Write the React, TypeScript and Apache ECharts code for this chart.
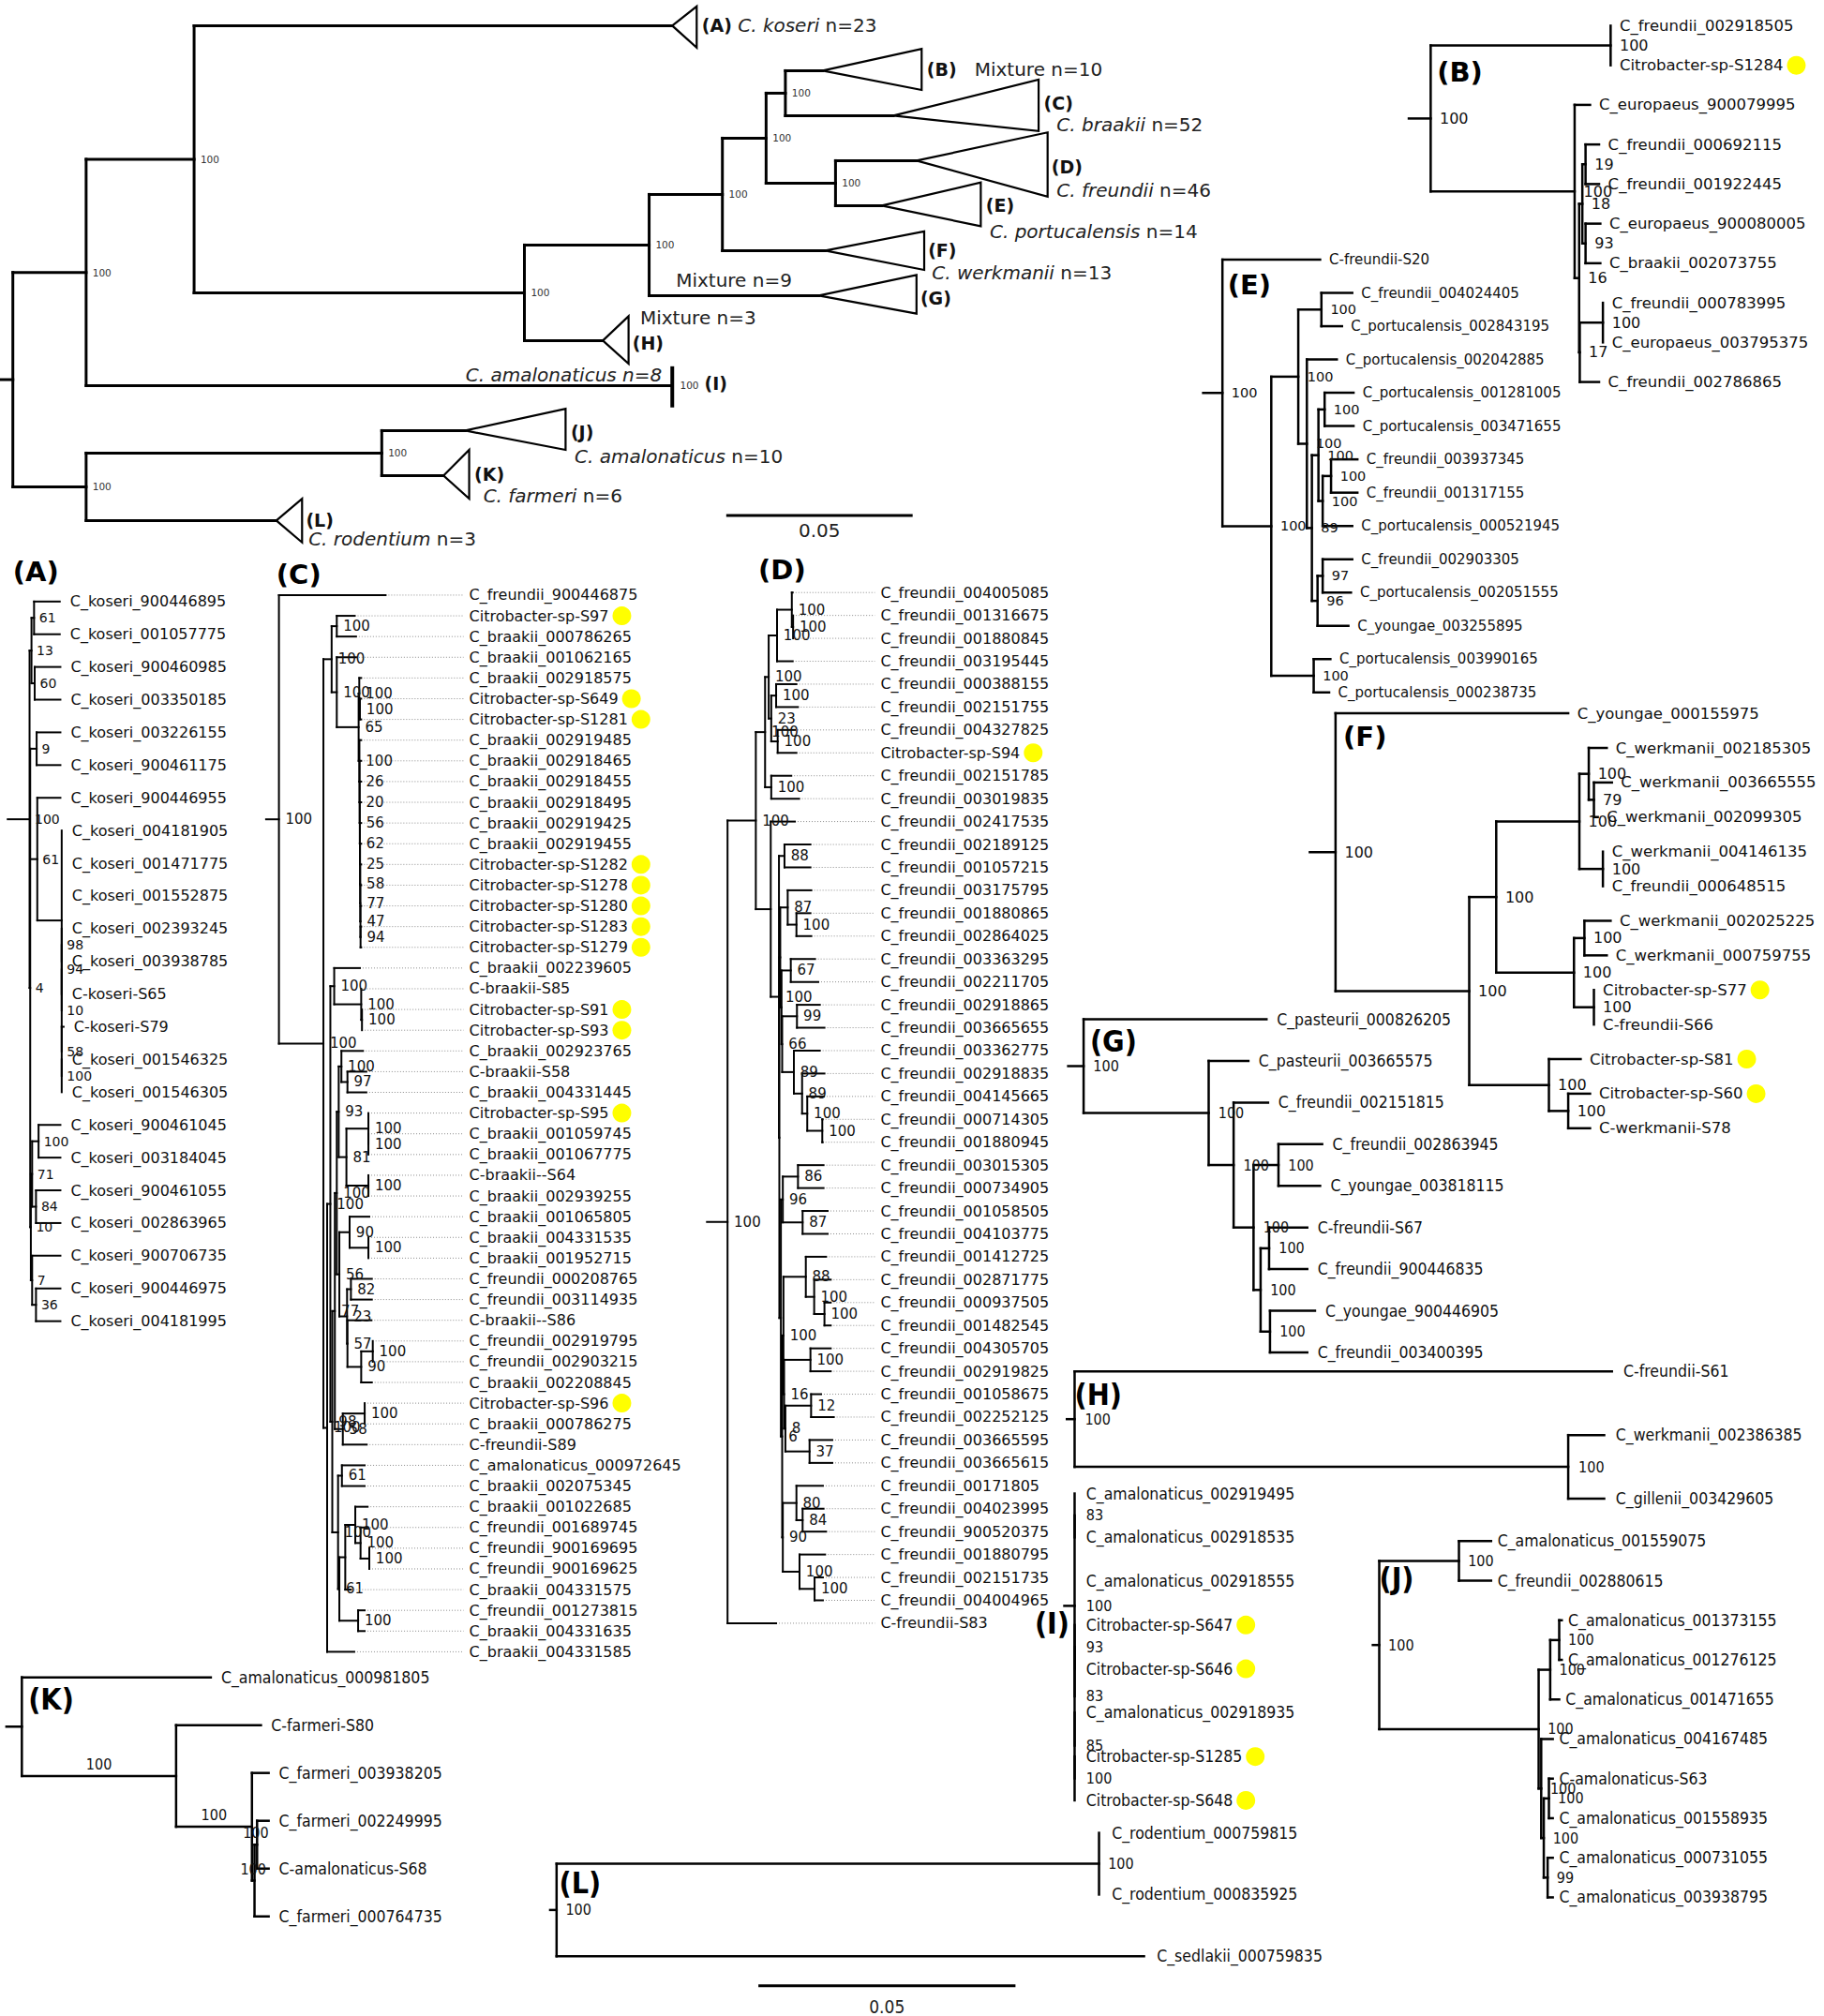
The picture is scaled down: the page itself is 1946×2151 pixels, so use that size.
import React, { useEffect, useRef } from "react";
import * as echarts from "echarts";

const PAGE_W = 1946;
const PAGE_H = 2151;
const S = PAGE_W / 1419; // depths / positions below were read on a 1419-px-wide copy
const SANS = "'DejaVu Sans', 'Noto Sans', sans-serif";
const COND = "'DejaVu Sans Condensed', 'Liberation Sans Narrow', 'DejaVu Sans', sans-serif";

/* ======================= DATA ======================= */
// Newick trees: ":value" = node depth along the tree axis, internal label = bootstrap support, "*" = highlighted isolate.

// Overview (collapsed clades A..L)
const OV_TREE =
  "(((A:523,(((((B:640,C:695)100:611,(D:713,E:686)100:650)100:596,F:642)100:562,G:637)100:505,H:469)100:408)100:151,I:523)100:67,((J:362,K:345)100:297,L:215)100:67):10;";
const OV_CLADE_DEPTH = [19, 77, 113, 102, 77, 77, 76, 20, 0, 78, 20, 20];
const OV_CLADE_UP = [15, 17, 28, 22, 18, 15, 16, 19, 15, 17, 20, 17];
const OV_CLADE_DOWN = [17, 15, 12, 28, 16, 15, 14, 18, 17, 15, 18, 17];
const OV_CLADE_TAXON = [
  "C. koseri", "Mixture", "C. braakii", "C. freundii", "C. portucalensis", "C. werkmanii",
  "Mixture", "Mixture", "C. amalonaticus", "C. amalonaticus", "C. farmeri", "C. rodentium",
];
const OV_CLADE_N = [23, 10, 52, 46, 14, 13, 9, 3, 8, 10, 6, 3];
const OV_I_SUPPORT = "100";
const SCALE_LABEL = "0.05";
const SCALE_TOP_LEN = 145;
const SCALE_BOTTOM_LEN = 200;

// (A) C. koseri
const TREE_A =
  "(((C_koseri_900446895:46.5,C_koseri_001057775:46.5)61:26.5,(C_koseri_900460985:47,C_koseri_003350185:47)60:27)13:24.5," +
  "((C_koseri_003226155:47,C_koseri_900461175:47)9:28.5," +
  "(C_koseri_900446955:47,(C_koseri_004181905:48,C_koseri_001471775:48,C_koseri_001552875:48,(((C_koseri_002393245:48,C_koseri_003938785:48)98:48,C-koseri-S65:48)94:48,(C-koseri-S79:49.5,(C_koseri_001546325:48,C_koseri_001546305:48)100:48)58:48)10:48):48)61:29," +
  "(((C_koseri_900461045:47,C_koseri_003184045:47)100:30,(C_koseri_900461055:47,C_koseri_002863965:47)84:28)71:25,(C_koseri_900706735:47,(C_koseri_900446975:47,C_koseri_004181995:47)36:28)7:25)10:24)4:23.5)100:23;";

// (B) mixture
const TREE_B =
  "((C_freundii_002918505:1253,Citrobacter-sp-S1284*:1253)100:1253,(C_europaeus_900079995:1237,(((C_freundii_000692115:1244,C_freundii_001922445:1244)19:1233.5,(C_europaeus_900080005:1245,C_braakii_002073755:1245)93:1233.5)18:1231,((C_freundii_000783995:1247,C_europaeus_003795375:1247)100:1247,C_freundii_002786865:1244)17:1229)16:1228.5)100:1225)100:1113;";

// (C) C. braakii
const C_U1 = "(Citrobacter-sp-S97*:276,C_braakii_000786265:277)100:262";
const C_Q1 = "(C_braakii_002918575:281,(Citrobacter-sp-S649*:281,Citrobacter-sp-S1281*:281)100:280)100:279.5";
const C_Q2 =
  "(C_braakii_002919485:281,(C_braakii_002918465:281,(C_braakii_002918455:281,(C_braakii_002918495:281,(C_braakii_002919425:281,(C_braakii_002919455:281,(Citrobacter-sp-S1282*:281,(Citrobacter-sp-S1278*:281,(Citrobacter-sp-S1280*:281,(Citrobacter-sp-S1283*:281,Citrobacter-sp-S1279*:281)94:280.5)47:280.4)77:280.3)58:280.2)25:280.1)62:280)56:279.9)20:279.8)26:279.7)100:279.6";
const C_U2 = `(C_braakii_001062165:277,(${C_Q1},${C_Q2})65:279)100:262`;
const C_U = `(${C_U1},${C_U2})100:258`;
const C_V = "(C_braakii_002239605:280,(C-braakii-S85:281,(Citrobacter-sp-S91*:281.6,Citrobacter-sp-S93*:281.6)100:281.6)100:281)100:260";
const C_W = "(C_braakii_002923765:282.4,(C-braakii-S58:285,C_braakii_004331445:285)97:270.3)100:265.6";
const C_X = "((Citrobacter-sp-S95*:286.6,(C_braakii_001059745:286.6,C_braakii_001067775:286.6)100:286.6)100:286.6,(C-braakii--S64:286.6,C_braakii_002939255:286.6)100:286.6)81:269.5";
const C_Y = "(C_braakii_001065805:287.3,(C_braakii_004331535:286.6,C_braakii_001952715:286.6)100:286.6)90:272";
const C_Z = "(C_freundii_000208765:289.3,C_freundii_003114935:289.3)82:273";
const C_AA = "(C-braakii--S86:289,((C_freundii_002919795:290,C_freundii_002903215:290)100:290,C_braakii_002208845:289.3)90:281)57:270.3";
const C_BB = "((Citrobacter-sp-S96*:283.7,C_braakii_000786275:283.7)100:283.7,C-freundii-S89:285.3)58:266.7";
const C_CC = "(C_amalonaticus_000972645:283.7,C_braakii_002075345:283.7)61:266";
const C_DD = "((C_braakii_001022685:286,(C_freundii_001689745:286,(C_freundii_900169695:287.3,C_freundii_900169625:287.3)100:287.3)100:280.5)100:276.4,C_braakii_004331575:273):268.6";
const C_EE = "(C_freundii_001273815:283.7,C_braakii_004331635:283.7)100:278.6";
const C_L3 = `(((${C_W},${C_X})93:263.5,(${C_Y},(${C_Z},${C_AA})23:270)56:264)100:262,${C_BB})77:260.5`;
const C_L4 = `(${C_CC},(${C_DD},${C_EE})61:264)100:263`;
const C_L = `((${C_V},(${C_L3},${C_L4})98:258.5)100:257,C_braakii_004331585:275.6)100:254.5`;
const TREE_C = `(C_freundii_900446875:300,(${C_U},${C_L})100:251.6)100:217;`;

// (D) C. freundii
const D_U1 = "((C_freundii_004005085:616.7,(C_freundii_001316675:617,C_freundii_001880845:617)100:617)100:616,C_freundii_003195445:616.7)100:604.5";
const D_U2 = "((C_freundii_000388155:619.6,C_freundii_002151755:620.8)100:603.8,(C_freundii_004327825:618.4,Citrobacter-sp-S94*:619.6)100:605)23:600";
const D_T1 = `((${D_U1},${D_U2})100:598,(C_freundii_002151785:615.6,C_freundii_003019835:621.7)100:600)100:595.2`;
const D_R1 = "(C_freundii_002189125:630.5,C_freundii_001057215:630.5)88:610.3";
const D_c1 = "(C_freundii_003175795:631.2,(C_freundii_001880865:630.5,C_freundii_002864025:631.2)100:619.6)87:612.8";
const D_c2 = "(C_freundii_003363295:634.1,C_freundii_002211705:636.6)67:615.2";
const D_c3 = "(C_freundii_002918865:637.8,C_freundii_003665655:641.4)99:620";
const D_c4 = "(C_freundii_003362775:637.8,(C_freundii_002918835:641.4,(C_freundii_004145665:641,(C_freundii_000714305:640,C_freundii_001880945:640)100:639.7)100:628)89:624)89:617.6";
const D_c5 = "(C_freundii_003015305:640.7,C_freundii_000734905:640.7)86:620.8";
const D_c6 = "(C_freundii_001058505:643.9,C_freundii_004103775:643.9)87:624.4";
const D_c7 = "(C_freundii_001412725:642.7,(C_freundii_002871775:646.3,(C_freundii_000937505:646.3,C_freundii_001482545:646.3)100:641.4)100:633.4)88:626.9";
const D_c8 = "(C_freundii_004305705:646.3,C_freundii_002919825:646.3)100:630.5";
const D_c9 = "(C_freundii_001058675:638.8,C_freundii_002252125:648.7)12:631";
const D_c10 = "(C_freundii_003665595:647.5,C_freundii_003665615:647.5)37:629.8";
const D_c11 = "(C_freundii_00171805:640.2,(C_freundii_004023995:640.7,C_freundii_900520375:642.7)84:624.4)80:619.6";
const D_c12 = "(C_freundii_001880795:641.9,(C_freundii_002151735:640.2,C_freundii_004004965:640.2)100:633.7)100:622";
const D_B1 = `(${D_c1},(${D_c2},(${D_c3},${D_c4})66:608.5):608):607`;
const D_B2 = `((${D_c5},${D_c6})96:609,((${D_c7},(${D_c8},(${D_c9},${D_c10})8:611)16:610)100:609.5,(${D_c11},${D_c12})90:609)6:608.5):607.5`;
const D_R = `(${D_R1},(${D_B1},${D_B2}):606.3)100:606`;
const D_T2 = `(C_freundii_002417535:618.4,${D_R}):599.6`;
const TREE_D = `((${D_T1},${D_T2})100:588,C-freundii-S83:603.8)100:566;`;

// (E) C. portucalensis
const TREE_E =
  "(C-freundii-S20:1027,(((C_freundii_004024405:1052,C_portucalensis_002843195:1044)100:1028,(C_portucalensis_002042885:1040,(((C_portucalensis_001281005:1053,C_portucalensis_003471655:1053)100:1030.5,((C_freundii_003937345:1056,C_freundii_001317155:1056)100:1035.5,C_portucalensis_000521945:1052)100:1029)100:1025.7,((C_freundii_002903305:1052,C_portucalensis_002051555:1051)97:1029,C_youngae_003255895:1049)96:1025)89:1020.6)100:1016.7)100:1010,(C_portucalensis_003990165:1035,C_portucalensis_000238735:1034)100:1022)100:989)100:951;";

// (F) C. werkmanii
const TREE_F =
  "(C_youngae_000155975:1220,((((C_werkmanii_002185305:1250,(C_werkmanii_003665555:1254,C_werkmanii_002099305:1243)79:1240)100:1236,(C_werkmanii_004146135:1247,C_freundii_000648515:1247)100:1247)100:1228.7,((C_werkmanii_002025225:1253,C_werkmanii_000759755:1250)100:1232.6,(Citrobacter-sp-S77*:1240,C-freundii-S66:1240)100:1240)100:1224.5)100:1164,(Citrobacter-sp-S81*:1229.7,(Citrobacter-sp-S60*:1237,C-werkmanii-S78:1237)100:1220)100:1205)100:1143)100:1039;";

// (G) mixture
const TREE_G =
  "(C_pasteurii_000826205:985.3,(C_pasteurii_003665575:971.2,(C_freundii_002151815:986.5,((C_freundii_002863945:1028.6,C_youngae_003818115:1027)100:994.6,((C-freundii-S67:1017,C_freundii_900446835:1017)100:987.3,(C_youngae_900446905:1023,C_freundii_003400395:1017)100:988)100:980.7)100:975.2)100:959.7)100:940.3)100:843;";

// (H) mixture
const TREE_H = "(C-freundii-S61:1254,(C_werkmanii_002386385:1248,C_gillenii_003429605:1248)100:1220)100:836;";

// (I) C. amalonaticus
const TREE_I =
  "((C_amalonaticus_002919495:836,C_amalonaticus_002918535:836)83:836,C_amalonaticus_002918555:836,((Citrobacter-sp-S647*:836,Citrobacter-sp-S646*:836)93:836,(C_amalonaticus_002918935:836,(Citrobacter-sp-S1285*:836,Citrobacter-sp-S648*:836)100:836)85:836)83:836)100:836;";

// (J) C. amalonaticus
const TREE_J =
  "((C_amalonaticus_001559075:1160,C_freundii_002880615:1160)100:1135,(((C_amalonaticus_001373155:1215,C_amalonaticus_001276125:1215)100:1213,C_amalonaticus_001471655:1213)100:1206,(C_amalonaticus_004167485:1208,((C-amalonaticus-S63:1208,C_amalonaticus_001558935:1208)100:1205,(C_amalonaticus_000731055:1208,C_amalonaticus_003938795:1208)99:1204)100:1201)100:1199)100:1197)100:1073;";

// (K) C. farmeri
const TREE_K =
  "(C_amalonaticus_000981805:164,(C-farmeri-S80:203,(C_farmeri_003938205:209,((C_farmeri_002249995:209,C-amalonaticus-S68:209)100:200,C_farmeri_000764735:209)100:198)100:196)100:137):17;";

// (L) C. rodentium
const TREE_L = "((C_rodentium_000759815:855,C_rodentium_000835925:855)100:855,C_sedlakii_000759835:890)100:433;";

/* ======================= LAYOUT / STYLE ======================= */
type Panel = {
  key: string; tree: string; x0: number; y0: number; dy: number; font: string;
  fs: number; sfs: number; gap: number; sdx: number; lw: number;
  alignX?: number; supportMode?: "node" | "branch"; overview?: boolean;
};

const PANELS: Panel[] = [
  { key: "O", tree: OV_TREE, x0: 0, y0: 20, dy: 35, font: SANS, fs: 20, sfs: 10.5, gap: 0, sdx: 5, lw: 3, overview: true },
  { key: "A", tree: TREE_A, x0: 6, y0: 468, dy: 25.45, font: SANS, fs: 16, sfs: 14, gap: 8, sdx: 4, lw: 2 },
  { key: "B", tree: TREE_B, x0: 1096, y0: 20, dy: 30.8, font: SANS, fs: 16.5, sfs: 16, gap: 7, sdx: 7, lw: 2.5 },
  { key: "C", tree: TREE_C, x0: 207, y0: 463, dy: 16.12, font: SANS, fs: 16, sfs: 15, gap: 0, sdx: 5, lw: 2, alignX: 365 },
  { key: "D", tree: TREE_D, x0: 550, y0: 461, dy: 17.82, font: SANS, fs: 16, sfs: 15, gap: 0, sdx: 5, lw: 2, alignX: 685 },
  { key: "E", tree: TREE_E, x0: 936, y0: 202, dy: 25.9, font: SANS, fs: 15, sfs: 14.5, gap: 7, sdx: 7, lw: 2.5 },
  { key: "F", tree: TREE_F, x0: 1019, y0: 555, dy: 26.9, font: SANS, fs: 16.5, sfs: 16, gap: 7, sdx: 7, lw: 2.5 },
  { key: "G", tree: TREE_G, x0: 831, y0: 793, dy: 32.4, font: COND, fs: 17.5, sfs: 16, gap: 8, sdx: 7.5, lw: 2.5 },
  { key: "H", tree: TREE_H, x0: 830, y0: 1067, dy: 49.5, font: COND, fs: 17.5, sfs: 16, gap: 9, sdx: 8, lw: 2.5 },
  { key: "I", tree: TREE_I, x0: 828, y0: 1162, dy: 34.1, font: COND, fs: 17.5, sfs: 16, gap: 9, sdx: 9, lw: 2.5 },
  { key: "J", tree: TREE_J, x0: 1068, y0: 1199, dy: 30.8, font: COND, fs: 17.5, sfs: 16, gap: 5, sdx: 7, lw: 2.5 },
  { key: "K", tree: TREE_K, x0: 5, y0: 1305, dy: 37.2, font: COND, fs: 17.5, sfs: 16, gap: 8, sdx: 7, lw: 2.5, supportMode: "branch" },
  { key: "L", tree: TREE_L, x0: 428, y0: 1426, dy: 48, font: COND, fs: 17.5, sfs: 16, gap: 10, sdx: 7, lw: 2.5 },
];

const LETTERS: [string, number, number, string, number][] = [
  ["(A)", 10, 445, SANS, 29], ["(B)", 1118, 56, SANS, 29], ["(C)", 215, 447, SANS, 29],
  ["(D)", 590, 443, SANS, 29], ["(E)", 955, 222, SANS, 29], ["(F)", 1045, 573, SANS, 29],
  ["(G)", 848, 810, COND, 32], ["(H)", 836, 1085, COND, 32], ["(I)", 805, 1263, COND, 32],
  ["(J)", 1073, 1228, COND, 32], ["(K)", 22, 1322, COND, 32], ["(L)", 435, 1465, COND, 32],
];

// label placement of the collapsed clades (offsets, display px)
const OV_LAYOUT: any[] = [
  { kind: "inline", lx: 4, ly: 0, sep: " " },
  { kind: "inline", lx: 4, ly: -1, sep: "   " },
  { kind: "stack", lx: 4, ly: -10, nx: 14, ny: 7 },
  { kind: "stack", lx: 3, ly: 5, nx: 7, ny: 23 },
  { kind: "stack", lx: 4, ly: 0, nx: 7, ny: 20 },
  { kind: "stack", lx: 3, ly: 0, nx: 6, ny: 17 },
  { kind: "overBranch", lx: 3, ly: 2, ny: -12 },
  { kind: "stack", lx: 3, ly: 2, nx: 9, ny: -18 },
  { kind: "bar", lx: 25, ly: -2, ny: -8 },
  { kind: "stack", lx: 4, ly: 1, nx: 7, ny: 20 },
  { kind: "stack", lx: 4, ly: -1, nx: 11, ny: 16 },
  { kind: "stack", lx: 3, ly: 0, nx: 5, ny: 14 },
];

/* ======================= TREE UTILS ======================= */
type TNode = { name: string; label: string; pos: number; children: TNode[]; y: number; dot: boolean; parent?: TNode };

function parseNewick(src: string): TNode {
  const s = src.trim();
  let i = 0;
  function node(): TNode {
    const n: TNode = { name: "", label: "", pos: 0, children: [], y: 0, dot: false };
    if (s[i] === "(") {
      i++;
      for (;;) {
        const c = node();
        c.parent = n;
        n.children.push(c);
        if (s[i] === ",") { i++; continue; }
        if (s[i] === ")") { i++; break; }
        throw new Error("bad newick near " + i);
      }
    }
    let tok = "";
    while (i < s.length && ",():;".indexOf(s[i]) < 0) tok += s[i++];
    if (s[i] === ":") {
      i++;
      let num = "";
      while (i < s.length && ",();".indexOf(s[i]) < 0) num += s[i++];
      n.pos = parseFloat(num);
    }
    if (n.children.length) n.label = tok;
    else { n.dot = tok.endsWith("*"); n.name = n.dot ? tok.slice(0, -1) : tok; }
    return n;
  }
  return node();
}

function layoutTree(root: TNode) {
  const leaves: TNode[] = [], internals: TNode[] = [], all: TNode[] = [];
  let k = 0;
  const walk = (n: TNode) => {
    all.push(n);
    if (!n.children.length) { n.y = k++; leaves.push(n); }
    else {
      n.children.forEach(walk);
      n.y = (n.children[0].y + n.children[n.children.length - 1].y) / 2;
      internals.push(n);
    }
  };
  walk(root);
  return { leaves, internals, all };
}

let mctx: CanvasRenderingContext2D | null = null;
function textWidth(t: string, size: number, family: string) {
  if (!mctx) mctx = document.createElement("canvas").getContext("2d");
  if (!mctx) return t.length * size * 0.6;
  mctx.font = `${size}px ${family}`;
  return mctx.measureText(t).width;
}

const OV_RICH = {
  b: { fontFamily: SANS, fontWeight: "bold", fontSize: 19, fill: "#111" },
  i: { fontFamily: SANS, fontStyle: "italic", fontSize: 20, fill: "#222" },
  r: { fontFamily: SANS, fontSize: 20, fill: "#222" },
};
function ovName(k: number) {
  const t = OV_CLADE_TAXON[k];
  const tail = " n=" + OV_CLADE_N[k];
  return t.startsWith("C.") ? `{i|${t}}{r|${tail}}` : `{r|${t}${tail}}`;
}

/* ======================= OPTION ======================= */
function buildOption() {
  const grid: any[] = [], xAxis: any[] = [], yAxis: any[] = [], series: any[] = [];

  PANELS.forEach((p, gi) => {
    const root = parseNewick(p.tree);
    const { leaves, internals, all } = layoutTree(root);
    const n = leaves.length;
    let maxPos = p.alignX != null ? p.alignX : p.x0;
    all.forEach((nd, idx) => { maxPos = Math.max(maxPos, nd.pos); });
    if (p.overview) leaves.forEach((l, k) => { maxPos = Math.max(maxPos, l.pos + OV_CLADE_DEPTH[k]); });
    const span = Math.min(maxPos - p.x0 + 5, 1418 - p.x0);
    grid.push({ left: p.x0 * S, top: p.y0 * S, width: span * S, height: (n - 1) * p.dy * S, show: false, containLabel: false });
    xAxis.push({ gridIndex: gi, type: "value", min: p.x0, max: p.x0 + span, show: false });
    yAxis.push({ gridIndex: gi, type: "value", min: 0, max: n - 1, inverse: true, show: false });

    const segs: number[][] = [[p.x0, root.y, root.pos, root.y]];
    all.forEach((nd) => {
      if (nd.parent && nd.pos !== nd.parent.pos) segs.push([nd.parent.pos, nd.y, nd.pos, nd.y]);
    });
    internals.forEach((nd) => {
      const a = nd.children[0].y, b = nd.children[nd.children.length - 1].y;
      if (a !== b) segs.push([nd.pos, a, nd.pos, b]);
    });

    series.push({
      type: "custom", name: p.key + " branches", xAxisIndex: gi, yAxisIndex: gi, silent: true,
      data: segs,
      renderItem: (_params: any, api: any) => {
        const a = api.coord([api.value(0), api.value(1)]);
        const b = api.coord([api.value(2), api.value(3)]);
        return {
          type: "line",
          shape: { x1: a[0], y1: a[1], x2: b[0], y2: b[1] },
          style: { stroke: "#000", lineWidth: p.lw, lineCap: "square" },
        };
      },
    });

    const sup = internals.filter((nd) => nd.label !== "");
    series.push({
      type: "custom", name: p.key + " support", xAxisIndex: gi, yAxisIndex: gi, silent: true,
      data: sup.map((nd) => [nd.pos, nd.y]),
      renderItem: (params: any, api: any) => {
        const nd = sup[params.dataIndex];
        const base = { fontSize: p.sfs, fontFamily: p.font, fill: p.overview ? "#333" : "#111" };
        if (p.supportMode === "branch" && nd.parent) {
          const c = api.coord([(nd.parent.pos + nd.pos) / 2, nd.y]);
          return { type: "text", x: c[0], y: c[1] - 9 * S, style: { ...base, text: nd.label, align: "center", verticalAlign: "middle" } };
        }
        const c = api.coord([nd.pos, nd.y]);
        return { type: "text", x: c[0] + p.sdx * S, y: c[1], style: { ...base, text: nd.label, align: "left", verticalAlign: "middle" } };
      },
    });

    if (p.overview) {
      series.push({
        type: "custom", name: "clades", xAxisIndex: gi, yAxisIndex: gi, silent: true,
        data: leaves.map((l) => [l.pos, l.y]),
        renderItem: (params: any, api: any) => {
          const k = params.dataIndex;
          const lf = leaves[k];
          const c = api.coord([api.value(0), api.value(1)]);
          const rx = api.coord([api.value(0) + OV_CLADE_DEPTH[k], api.value(1)])[0];
          const up = OV_CLADE_UP[k] * S, dn = OV_CLADE_DOWN[k] * S;
          const kids: any[] = [];
          if (OV_CLADE_DEPTH[k] > 0) {
            kids.push({ type: "polygon", shape: { points: [[c[0], c[1]], [rx, c[1] - up], [rx, c[1] + dn]] }, style: { fill: "none", stroke: "#000", lineWidth: 2.2 } });
          } else {
            kids.push({ type: "line", shape: { x1: c[0], y1: c[1] - up, x2: c[0], y2: c[1] + dn }, style: { stroke: "#000", lineWidth: 4 } });
          }
          const L = OV_LAYOUT[k];
          const letter = `{b|(${lf.name})}`;
          const txt = (x: number, y: number, text: string, align = "left") => ({
            type: "text", x, y, style: { text, rich: OV_RICH, fontSize: 20, fontFamily: SANS, fill: "#222", align, verticalAlign: "middle" },
          });
          if (L.kind === "inline") {
            kids.push(txt(rx + L.lx * S, c[1] + L.ly * S, letter + `{r|${L.sep}}` + ovName(k)));
          } else if (L.kind === "stack") {
            kids.push(txt(rx + L.lx * S, c[1] + L.ly * S, letter));
            kids.push(txt(rx + L.nx * S, c[1] + L.ny * S, ovName(k)));
          } else if (L.kind === "overBranch") {
            kids.push(txt(rx + L.lx * S, c[1] + L.ly * S, letter));
            const mx = api.coord([((lf.parent ? lf.parent.pos : lf.pos) + lf.pos) / 2, lf.y])[0];
            kids.push(txt(mx, c[1] + L.ny * S, ovName(k), "center"));
          } else if (L.kind === "bar") {
            kids.push({ type: "text", x: c[0] + 6 * S, y: c[1], style: { text: OV_I_SUPPORT, fontSize: 10.5, fontFamily: SANS, fill: "#333", align: "left", verticalAlign: "middle" } });
            kids.push(txt(c[0] + L.lx * S, c[1] + L.ly * S, letter));
            kids.push(txt(c[0] - 8 * S, c[1] + L.ny * S, `{i|${OV_CLADE_TAXON[k]} n=${OV_CLADE_N[k]}}`, "right"));
          }
          return { type: "group", children: kids };
        },
      });
    } else {
      series.push({
        type: "custom", name: p.key + " leaves", xAxisIndex: gi, yAxisIndex: gi, silent: true,
        data: leaves.map((l) => [l.pos, l.y]),
        renderItem: (params: any, api: any) => {
          const lf = leaves[params.dataIndex];
          const c = api.coord([api.value(0), api.value(1)]);
          const kids: any[] = [];
          let tx: number;
          if (p.alignX != null) {
            tx = api.coord([p.alignX, api.value(1)])[0];
            kids.push({ type: "line", shape: { x1: c[0] + 3, y1: c[1], x2: tx - 6, y2: c[1] }, style: { stroke: "#8c8c8c", lineWidth: 1, lineDash: [1, 2] } });
          } else {
            tx = c[0] + p.gap * S;
          }
          kids.push({ type: "text", x: tx, y: c[1], style: { text: lf.name, fill: "#111", fontSize: p.fs, fontFamily: p.font, align: "left", verticalAlign: "middle" } });
          if (lf.dot) {
            const w = textWidth(lf.name, p.fs, p.font);
            kids.push({ type: "circle", shape: { cx: tx + w + 14, cy: c[1], r: 10 }, style: { fill: "#ffff00" } });
          }
          return { type: "group", children: kids };
        },
      });
    }
  });

  const graphic: any[] = LETTERS.map(([t, x, y, fam, size]) => ({
    type: "text", x: x * S, y: y * S, silent: true,
    style: { text: t, fontFamily: fam, fontSize: size, fontWeight: "bold", fill: "#000", verticalAlign: "middle", textVerticalAlign: "middle" },
  }));
  graphic.push(
    { type: "line", silent: true, shape: { x1: 565 * S, y1: 401 * S, x2: (565 + SCALE_TOP_LEN) * S, y2: 401 * S }, style: { stroke: "#000", lineWidth: 3 } },
    { type: "text", silent: true, x: (565 + SCALE_TOP_LEN / 2) * S, y: 413 * S, style: { text: SCALE_LABEL, fontFamily: SANS, fontSize: 20, fill: "#222", align: "center", textAlign: "center", verticalAlign: "middle", textVerticalAlign: "middle" } },
    { type: "line", silent: true, shape: { x1: 590 * S, y1: 1545 * S, x2: (590 + SCALE_BOTTOM_LEN) * S, y2: 1545 * S }, style: { stroke: "#000", lineWidth: 3 } },
    { type: "text", silent: true, x: (590 + SCALE_BOTTOM_LEN / 2) * S, y: 1561 * S, style: { text: SCALE_LABEL, fontFamily: COND, fontSize: 19, fill: "#222", align: "center", textAlign: "center", verticalAlign: "middle", textVerticalAlign: "middle" } }
  );

  return { animation: false, backgroundColor: "#fff", grid, xAxis, yAxis, series, graphic };
}

export default function App() {
  const ref = useRef<HTMLDivElement>(null);
  useEffect(() => {
    document.body.style.margin = "0";
    const el = ref.current!;
    const chart = echarts.init(el, undefined, { renderer: "svg", width: PAGE_W, height: PAGE_H });
    chart.setOption(buildOption() as any);
    return () => chart.dispose();
  }, []);
  return <div ref={ref} style={{ position: "absolute", left: 0, top: 0, width: PAGE_W, height: PAGE_H, background: "#fff" }} />;
}
